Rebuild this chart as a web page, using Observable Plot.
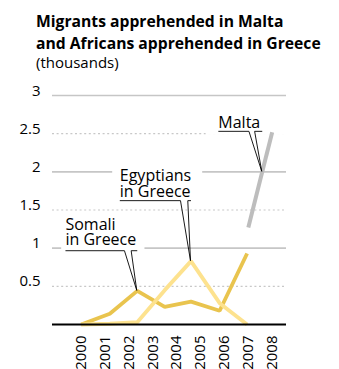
<!DOCTYPE html>
<html><head><meta charset="utf-8">
<script src="https://cdn.jsdelivr.net/npm/d3@7"></script>
<script src="https://cdn.jsdelivr.net/npm/@observablehq/plot@0.6"></script>
<style>
body{margin:0;background:#fff;font-family:"Open Sans",sans-serif;color:#000;}
#head{height:72px;padding-left:36px;box-sizing:border-box;padding-top:10px;overflow:visible;}
.t{font-weight:700;font-size:15.7px;line-height:22px;white-space:nowrap;}
.s{font-size:15px;line-height:17px;margin-top:0;}
#chart svg{display:block;}
</style></head><body>
<div id="head"><div class="t">Migrants apprehended in Malta<br>and Africans apprehended in Greece</div><div class="s">(thousands)</div></div>
<div id="chart"></div>
<script>
// ---- data (thousands) ----
const years = [2000, 2001, 2002, 2003, 2004, 2005, 2006, 2007, 2008];
const yTicks = [0.5, 1, 1.5, 2, 2.5, 3];
const solidGrid = [1, 2, 3];
const dottedGrid = [0.5, 1.5, 2.5];
// Greece series as positioned on the year axis in the original
const greeceX = [2000, 2001.2, 2002.35, 2003.5, 2004.6, 2005.8, 2006.95];
const somali = [0, 0.14, 0.44, 0.23, 0.30, 0.18, 0.93];
const egyptians = [0, 0.01, 0.03, 0.45, 0.83, 0.28, 0];
const maltaX = [2007, 2008];
const malta = [1.27, 2.52];

const somaliData = greeceX.map((x, i) => ({x, y: somali[i]}));
const egyptData = greeceX.map((x, i) => ({x, y: egyptians[i]}));
const maltaData = maltaX.map((x, i) => ({x, y: malta[i]}));

// callout anchor points taken from the data
const eIdx = egyptians.indexOf(d3.max(egyptians));
const sIdx = somali.indexOf(d3.max(somali.slice(0, 6)));
const mt = (2 - malta[0]) / (malta[1] - malta[0]);
const callouts = [
  {lines: ["Malta"], tip: {x: maltaX[0] + mt * (maltaX[1] - maltaX[0]), y: 2},
   tx: -43.4, base: [-43.4], ul: -40, wedge: [-12.8, -7.1], box: [-56, 30, -59, -36.5]},
  {lines: ["Egyptians", "in Greece"], tip: egyptData[eIdx],
   tx: -70.7, base: [-79.7, -64], ul: -60, wedge: [-10, -2.7], box: [-78.3, 11.7, -96, -57]},
  {lines: ["Somali", "in Greece"], tip: somaliData[sIdx],
   tx: -71.3, base: [-60, -45], ul: -39.7, wedge: [-12.3, -5.6], box: [-75.6, 7.7, -76, -36]}
];

function calloutMark(part) {
  return (index, scales) => {
    const g = d3.create("svg:g").attr("text-anchor", "start");
    for (const c of callouts) {
      const px = scales.x(c.tip.x), py = scales.y(c.tip.y);
      if (part === "box") {
        g.append("rect").attr("x", px + c.box[0]).attr("y", py + c.box[2])
          .attr("width", c.box[1] - c.box[0]).attr("height", c.box[3] - c.box[2])
          .attr("fill", "white");
      } else {
        const text = g.append("text").attr("text-anchor", "start")
          .attr("font-size", 16).attr("fill", "#000");
        c.lines.forEach((t, i) => {
          text.append("tspan").attr("x", px + c.tx).attr("y", py + c.base[i]).text(t);
        });
        const pts = [[px + c.tx, py + c.ul], [px + c.wedge[0], py + c.ul], [px, py],
                     [px + c.wedge[1], py + c.ul], [px + 0.5, py + c.ul]];
        g.append("path").attr("d", d3.line()(pts)).attr("fill", "none")
          .attr("stroke", "#000").attr("stroke-width", 0.9).attr("stroke-linejoin", "miter");
      }
    }
    return g.node();
  };
}

const chart = Plot.plot({
  width: 339,
  height: 297,
  marginTop: 23,
  marginBottom: 45,
  marginLeft: 52,
  marginRight: 53,
  style: {fontFamily: "'Open Sans', sans-serif", fontSize: "15px", color: "#000", background: "white", overflow: "visible"},
  x: {type: "linear", domain: [1998.8, 2008.6]},
  y: {domain: [0, 3]},
  marks: [
    Plot.ruleY(solidGrid, {stroke: "#c6c6c6", strokeWidth: 1.6}),
    Plot.ruleY(dottedGrid, {stroke: "#c8c8c8", strokeWidth: 1.2, strokeDasharray: "2,2.6"}),
    calloutMark("box"),
    Plot.line(maltaData, {x: "x", y: "y", stroke: "#bdbdbd", strokeWidth: 4, strokeLinecap: "butt"}),
    Plot.line(somaliData, {x: "x", y: "y", stroke: "#e9c44e", strokeWidth: 3.8, strokeLinejoin: "miter", strokeLinecap: "butt"}),
    Plot.line(egyptData, {x: "x", y: "y", stroke: "#fde28e", strokeWidth: 3.8, strokeLinejoin: "miter", strokeLinecap: "butt"}),
    Plot.ruleY([0], {stroke: "#000", strokeWidth: 2}),
    calloutMark("ink"),
    Plot.axisY(yTicks, {tickSize: 0, tickPadding: 12, lineAnchor: "bottom", fontSize: 15, label: null, tickFormat: d => String(d)}),
    Plot.axisX(years, {tickSize: 0, tickPadding: 11, tickRotate: -90, fontSize: 15, label: null, tickFormat: d => String(d)})
  ]
});
document.getElementById("chart").appendChild(chart);
</script>
</body></html>
